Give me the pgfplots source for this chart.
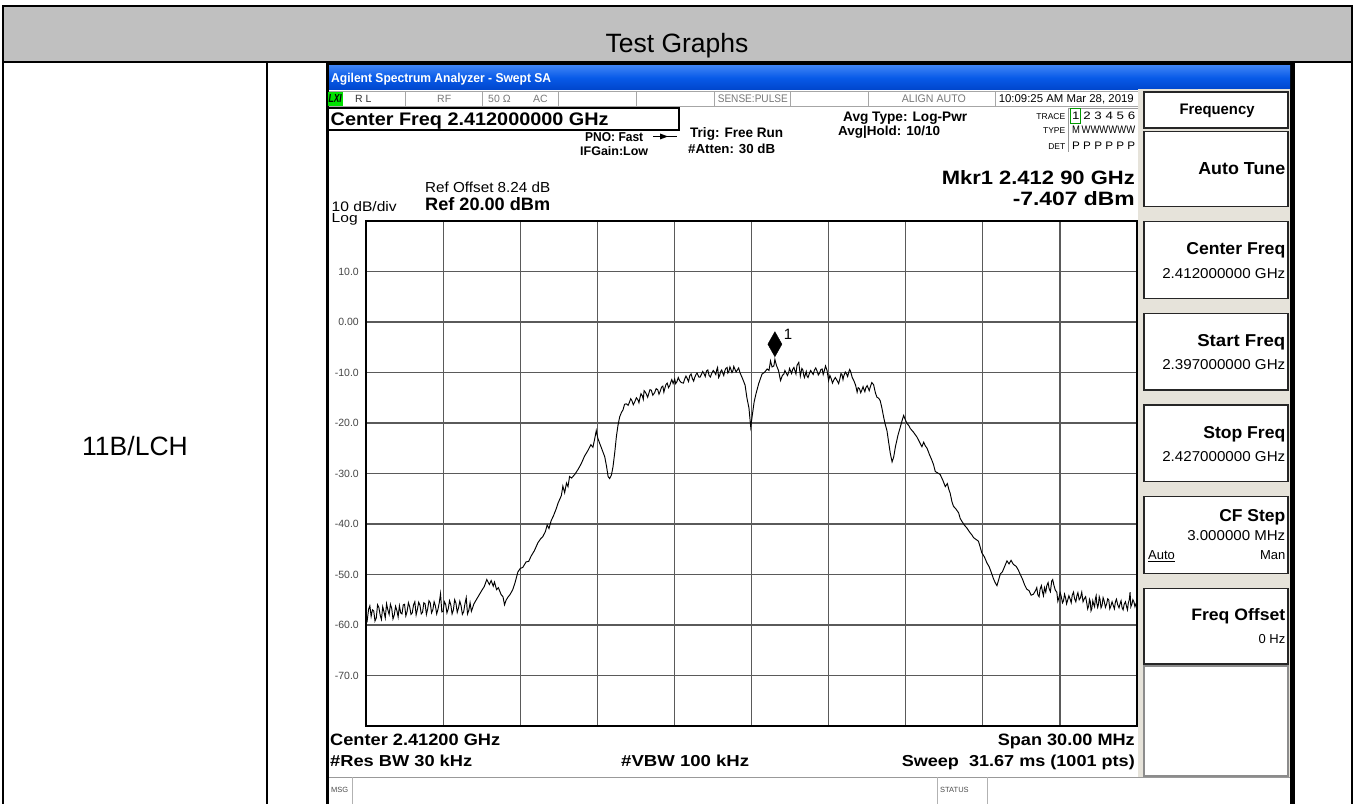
\documentclass[border=0pt]{standalone}
\usepackage{fontspec}
\setmainfont{Liberation Sans}
\usepackage{pgfplots}
\usepackage{pgfplotstable}
\pgfplotsset{compat=1.18}
\usepackage{graphicx}

\definecolor{hdrgray}{RGB}{192,192,192}
\definecolor{xptop}{RGB}{60,130,245}
\definecolor{xpmid}{RGB}{8,90,232}
\definecolor{xpbot}{RGB}{0,70,205}
\definecolor{beige}{RGB}{230,227,218}
\definecolor{lxigreen}{RGB}{0,225,0}
\definecolor{stgray}{RGB}{120,120,120}
\definecolor{gridc}{RGB}{90,90,90}
\definecolor{tickc}{RGB}{70,70,70}

\newcommand\fs[1]{\fontsize{#1bp}{#1bp}\selectfont}
\newcommand\RT[6]{\node[inner sep=0pt,anchor=#1] at (#2,#3) {\resizebox{#4bp}{#5bp}{#6}};}

\pgfplotstableread{
f p
0.00 -57.8
0.05 -59.0
0.10 -56.9
0.15 -56.2
0.20 -58.3
0.25 -57.0
0.30 -57.2
0.35 -59.2
0.40 -58.6
0.45 -56.0
0.50 -56.5
0.55 -58.0
0.60 -58.9
0.65 -56.4
0.70 -57.4
0.75 -58.6
0.80 -55.8
0.85 -57.0
0.90 -57.9
0.95 -55.9
1.00 -56.7
1.05 -58.8
1.10 -58.0
1.15 -56.3
1.20 -57.1
1.25 -58.4
1.30 -56.2
1.35 -57.6
1.40 -57.8
1.45 -56.0
1.50 -55.9
1.55 -58.2
1.60 -57.3
1.65 -55.6
1.70 -56.4
1.75 -57.9
1.80 -57.6
1.85 -56.0
1.90 -55.4
1.95 -58.0
2.00 -56.9
2.05 -55.5
2.10 -56.1
2.15 -57.8
2.20 -57.5
2.25 -55.6
2.30 -55.8
2.35 -57.9
2.40 -56.8
2.45 -55.2
2.50 -55.6
2.55 -57.6
2.60 -57.0
2.65 -55.4
2.70 -56.2
2.75 -57.8
2.80 -56.9
2.85 -55.6
2.90 -53.8
2.95 -57.4
3.00 -57.3
3.05 -55.4
3.10 -55.9
3.15 -57.6
3.20 -56.8
3.25 -55.2
3.30 -56.0
3.35 -57.8
3.40 -57.0
3.45 -55.0
3.50 -55.7
3.55 -57.5
3.60 -56.6
3.65 -55.3
3.70 -56.2
3.75 -57.9
3.80 -57.4
3.85 -55.8
3.90 -54.6
3.95 -57.8
4.00 -57.1
4.05 -55.6
4.10 -57.3
4.20 -55.8
4.35 -54.5
4.50 -53.2
4.60 -52.4
4.70 -51.0
4.80 -52.0
4.87 -51.2
4.95 -52.3
5.00 -51.5
5.08 -53.0
5.15 -52.6
5.26 -54.0
5.33 -54.4
5.39 -56.0
5.45 -55.1
5.52 -54.5
5.60 -54.0
5.71 -53.0
5.80 -51.6
5.91 -49.5
6.00 -48.8
6.10 -48.6
6.23 -47.5
6.33 -47.4
6.43 -46.3
6.55 -45.3
6.69 -43.7
6.80 -42.9
6.88 -42.5
6.98 -41.5
7.05 -40.2
7.12 -40.9
7.20 -39.4
7.30 -38.3
7.40 -37.0
7.47 -35.9
7.60 -34.4
7.66 -32.5
7.73 -33.8
7.80 -31.9
7.86 -32.6
7.92 -30.6
8.00 -30.9
8.12 -30.2
8.25 -29.2
8.38 -28.0
8.50 -26.6
8.64 -25.4
8.75 -24.3
8.83 -24.8
8.90 -23.1
8.96 -21.5
9.02 -23.0
9.09 -24.0
9.18 -25.2
9.29 -26.7
9.36 -28.6
9.42 -30.6
9.48 -31.0
9.55 -30.3
9.61 -28.7
9.68 -25.8
9.74 -22.8
9.80 -20.6
9.87 -18.8
9.94 -17.9
10.00 -17.4
10.06 -16.3
10.13 -16.2
10.20 -16.5
10.25 -15.9
10.30 -15.2
10.35 -15.6
10.40 -16.4
10.45 -15.9
10.52 -15.0
10.58 -15.4
10.62 -16.0
10.66 -15.0
10.70 -14.2
10.75 -14.6
10.79 -15.3
10.82 -13.6
10.87 -13.9
10.91 -14.3
10.96 -14.9
11.00 -14.2
11.05 -13.4
11.10 -13.5
11.16 -14.5
11.23 -14.0
11.29 -13.2
11.35 -13.4
11.40 -14.3
11.45 -13.7
11.50 -12.9
11.55 -12.7
11.59 -13.9
11.62 -13.3
11.67 -12.4
11.72 -12.1
11.77 -13.0
11.82 -12.6
11.86 -11.9
11.90 -11.4
11.95 -12.2
12.01 -11.3
12.05 -12.2
12.10 -11.8
12.15 -11.0
12.20 -11.6
12.27 -12.0
12.35 -12.1
12.40 -11.3
12.45 -10.7
12.50 -11.2
12.55 -11.8
12.60 -10.6
12.65 -10.3
12.70 -11.2
12.75 -11.7
12.79 -11.0
12.84 -10.4
12.88 -10.1
12.95 -10.9
13.00 -10.9
13.05 -10.4
13.10 -9.8
13.15 -10.2
13.20 -10.8
13.25 -9.7
13.30 -9.5
13.35 -10.6
13.40 -10.9
13.45 -10.2
13.51 -9.6
13.57 -10.0
13.61 -10.4
13.65 -9.4
13.68 -9.0
13.72 -11.0
13.76 -10.6
13.80 -9.8
13.84 -9.5
13.88 -10.1
13.92 -10.6
13.96 -9.7
14.00 -9.2
14.05 -9.0
14.08 -10.1
14.12 -9.8
14.16 -8.9
14.20 -9.4
14.24 -10.0
14.28 -9.6
14.31 -8.8
14.35 -9.3
14.40 -9.9
14.45 -9.5
14.50 -9.1
14.55 -10.0
14.65 -11.2
14.75 -12.5
14.82 -15.0
14.90 -17.0
14.97 -20.8
15.03 -18.5
15.10 -15.9
15.17 -14.3
15.28 -12.2
15.41 -10.3
15.50 -10.0
15.61 -9.3
15.68 -9.6
15.74 -7.7
15.80 -8.9
15.87 -8.7
15.91 -7.4
15.97 -8.6
16.05 -9.6
16.13 -11.6
16.20 -10.6
16.26 -10.3
16.30 -9.6
16.35 -10.1
16.40 -10.6
16.45 -9.9
16.48 -9.2
16.52 -9.7
16.56 -10.2
16.60 -9.4
16.65 -9.0
16.70 -9.8
16.73 -10.3
16.77 -8.6
16.84 -8.0
16.90 -10.7
16.96 -9.2
17.00 -9.5
17.03 -10.5
17.06 -11.0
17.10 -10.3
17.13 -9.8
17.16 -10.7
17.20 -11.0
17.25 -10.2
17.30 -9.6
17.35 -10.0
17.40 -10.4
17.45 -9.5
17.50 -9.1
17.55 -9.7
17.60 -10.5
17.65 -10.1
17.70 -9.4
17.75 -9.3
17.79 -10.4
17.82 -9.9
17.88 -8.7
17.94 -9.6
18.00 -11.6
18.05 -10.6
18.10 -11.2
18.15 -12.1
18.20 -11.5
18.26 -11.0
18.33 -11.6
18.39 -12.2
18.45 -11.0
18.48 -10.2
18.52 -10.4
18.56 -11.4
18.59 -10.7
18.65 -9.9
18.70 -10.3
18.74 -10.8
18.78 -10.0
18.82 -9.4
18.85 -9.7
18.92 -11.0
18.98 -11.6
19.05 -12.5
19.11 -13.9
19.15 -13.0
19.20 -13.2
19.25 -14.0
19.30 -13.4
19.34 -12.8
19.37 -13.3
19.41 -13.8
19.45 -13.0
19.50 -12.6
19.55 -13.2
19.58 -13.6
19.62 -12.9
19.68 -12.0
19.75 -12.4
19.82 -14.0
19.88 -14.9
19.95 -15.1
20.01 -15.6
20.08 -17.2
20.14 -18.8
20.20 -20.2
20.27 -21.5
20.33 -23.6
20.40 -26.0
20.47 -27.7
20.53 -26.8
20.60 -24.7
20.70 -22.4
20.79 -20.8
20.86 -19.5
20.92 -18.5
20.98 -19.3
21.05 -20.1
21.12 -20.5
21.18 -21.1
21.30 -21.8
21.44 -22.8
21.55 -23.9
21.63 -24.7
21.70 -23.8
21.76 -24.5
21.83 -25.0
21.92 -26.2
22.02 -27.4
22.08 -28.2
22.15 -29.6
22.25 -29.9
22.34 -30.2
22.45 -31.4
22.54 -32.6
22.62 -32.0
22.68 -33.2
22.73 -33.9
22.80 -35.6
22.86 -36.5
22.95 -37.0
23.06 -37.8
23.12 -38.9
23.19 -39.5
23.28 -40.2
23.38 -40.8
23.50 -41.7
23.58 -42.2
23.64 -42.7
23.72 -43.0
23.83 -43.4
23.90 -44.6
23.96 -45.7
24.06 -46.5
24.16 -47.7
24.25 -48.5
24.33 -49.6
24.42 -50.9
24.48 -51.6
24.55 -52.2
24.62 -51.0
24.68 -49.9
24.76 -49.5
24.85 -48.4
24.94 -47.3
25.02 -47.9
25.10 -47.2
25.19 -48.0
25.30 -48.4
25.38 -49.1
25.45 -49.9
25.55 -51.0
25.63 -52.1
25.71 -52.9
25.80 -53.2
25.88 -54.1
25.97 -53.9
26.05 -53.2
26.10 -52.6
26.14 -54.0
26.19 -54.4
26.23 -52.9
26.28 -52.2
26.32 -53.4
26.36 -54.2
26.40 -52.6
26.45 -53.5
26.49 -52.2
26.54 -51.6
26.58 -52.8
26.63 -53.4
26.68 -51.3
26.72 -51.0
26.76 -52.0
26.82 -53.1
26.88 -53.5
26.92 -55.3
26.96 -54.6
27.01 -53.6
27.05 -54.3
27.10 -55.6
27.14 -55.2
27.18 -53.9
27.22 -54.6
27.26 -55.8
27.30 -55.1
27.35 -54.2
27.40 -54.9
27.44 -55.6
27.48 -54.1
27.53 -53.5
27.57 -54.8
27.62 -55.4
27.66 -54.2
27.70 -53.6
27.75 -55.0
27.80 -54.6
27.85 -53.5
27.90 -55.4
27.95 -54.8
28.00 -54.4
28.04 -55.5
28.08 -56.8
28.12 -56.2
28.15 -54.9
28.18 -55.3
28.21 -57.2
28.24 -56.8
28.28 -55.2
28.32 -56.0
28.35 -56.4
28.38 -54.8
28.41 -54.2
28.43 -55.5
28.47 -56.5
28.50 -55.9
28.53 -54.4
28.56 -54.9
28.60 -56.6
28.64 -56.1
28.68 -54.6
28.72 -55.2
28.77 -56.5
28.82 -55.8
28.86 -54.8
28.90 -55.0
28.94 -56.8
28.98 -56.3
29.03 -55.4
29.08 -56.2
29.12 -56.8
29.16 -55.4
29.20 -54.9
29.25 -56.0
29.30 -56.6
29.34 -55.8
29.38 -55.2
29.42 -56.6
29.46 -57.0
29.50 -55.9
29.55 -55.4
29.60 -56.5
29.63 -57.0
29.66 -55.7
29.70 -55.0
29.73 -53.5
29.76 -56.4
29.80 -55.9
29.84 -55.0
29.88 -55.4
29.92 -56.4
29.96 -55.8
30.00 -56.0
}\trace

\begin{document}
\begin{tikzpicture}
\path[use as bounding box] (0,0) rectangle (1355bp,804bp);
\clip (0,0) rectangle (1355bp,804bp);
\begin{scope}[x=1bp,y=-1bp,yshift=804bp]
 \fill[white] (0,0) rectangle (1355,804);
 % ---- table ----
 \fill[hdrgray] (3.5,6.5) rectangle (1351.5,62);
 \draw[line width=2bp] (3.5,820) -- (3.5,6.5) -- (1351.5,6.5) -- (1351.5,820);
 \draw[line width=2bp] (3.5,62) -- (1351.5,62);
 \draw[line width=2bp] (266.5,62) -- (266.5,820);
 \node[anchor=base,inner sep=0pt] at (677,52.5) {\fs{26.5}Test Graphs};
 \node[anchor=base,inner sep=0pt] at (135,456) {\fs{26.5}11B/LCH};
 % ---- analyzer frame ----
 \fill[black] (326,63) rectangle (1295,820);
 \fill[white] (329,66) rectangle (1290,820);
 \shade[top color=xptop,bottom color=xpbot,middle color=xpmid] (329,66) rectangle (1290,89.5);
 \RT{base west}{331}{83}{220}{9.3}{\color{white}\fs{13}\bfseries Agilent Spectrum Analyzer - Swept SA}
 % status row
 \draw[black!35,line width=0.8bp] (329,91.5) -- (1140,91.5) (329,106.5) -- (1140,106.5);
 \foreach \xx in {405,482,558,636,714,790,868,995,1140}
   \draw[black!35,line width=0.8bp] (\xx,91.5) -- (\xx,106.5);
 \fill[lxigreen] (327.5,92) rectangle (342.5,106);
 \RT{base west}{328.5}{103}{13}{8}{\fs{10}\bfseries\itshape LXI}
 \node[anchor=base west,inner sep=0pt,text=black!80] at (355,102.5) {\fs{10.5}R L};
 \node[anchor=base west,inner sep=0pt,text=stgray] at (437,102.5) {\fs{10.5}RF};
 \node[anchor=base west,inner sep=0pt,text=stgray] at (488,102.5) {\fs{10.5}50 Ω};
 \node[anchor=base west,inner sep=0pt,text=stgray] at (533,102.5) {\fs{10.5}AC};
 \RT{base east}{788}{102.5}{70}{7.7}{\color{stgray}\fs{10.5}SENSE:PULSE}
 \RT{base east}{966}{102.5}{64}{7.7}{\color{stgray}\fs{10.5}ALIGN AUTO}
 \RT{base east}{1134}{102.5}{135}{7.9}{\fs{11}10:09:25 AM Mar 28, 2019}
 % center freq box
 \draw[black,line width=1.3bp] (328,108) rectangle (679,130);
 \RT{base west}{330.5}{126}{278}{12.7}{\fs{17}\bfseries Center Freq 2.412000000 GHz}
 \RT{base west}{585}{141.7}{58}{9}{\fs{12}\bfseries PNO: Fast}
 \draw[line width=0.8bp] (653,136.5) -- (677,136.5);
 \fill (660,133.5) -- (668,136.5) -- (660,139.5) -- cycle;
 \RT{base west}{580}{156}{68}{9}{\fs{12}\bfseries IFGain:Low}
 \RT{base west}{690}{137.3}{93}{10}{\fs{13}\bfseries Trig: Free Run}
 \RT{base west}{688}{154}{87}{9.5}{\fs{13}\bfseries \#Atten: 30 dB}
 \RT{base west}{843}{121.7}{124}{9.5}{\fs{13}\bfseries Avg Type: Log-Pwr}
 \RT{base west}{838}{136}{102}{9.5}{\fs{13}\bfseries Avg|Hold: 10/10}
 % trace box
 \draw[black!40,line width=0.8bp] (1068,152) -- (1068,108) -- (1138,108);
 \node[anchor=base east,inner sep=0pt] at (1065.5,119.3) {\fs{8.5}TRACE};
 \node[anchor=base east,inner sep=0pt] at (1065.5,133.3) {\fs{8.5}TYPE};
 \node[anchor=base east,inner sep=0pt] at (1065.5,150) {\fs{8.5}DET};
 \draw[green!60!black,line width=0.7bp] (1070.5,108.5) rectangle (1080.5,123.5);
 \RT{base west}{1072}{119.3}{63}{7.5}{\fs{10}1 2 3 4 5 6}
 \RT{base west}{1072}{133.3}{63}{7.5}{\fs{10}M\,WWWWWW}
 \RT{base west}{1072}{150}{63}{7.5}{\fs{10}P P P P P P}
 % marker readout
 \RT{base east}{1135}{185}{193}{14}{\fs{19}\bfseries Mkr1 2.412 90 GHz}
 \RT{base east}{1135}{206}{122}{14}{\fs{19}\bfseries -7.407 dBm}
 % reference
 \RT{base west}{425}{192.7}{125}{10.5}{\fs{14}Ref Offset 8.24 dB}
 \RT{base west}{425}{210.7}{125}{13}{\fs{17}\bfseries Ref 20.00 dBm}
 \RT{base west}{331.5}{211.7}{65}{10}{\fs{13}10 dB/div}
 \RT{base west}{331.5}{222.5}{26}{9}{\fs{12}Log}
 % softkey panel
 \fill[beige] (1138,89.5) rectangle (1290,777);
 \foreach \ya/\yb in {92/128,131.7/206.7,221.7/298.3,313.3/390,405/481.7,496.7/573.3,588.3/664}
   \filldraw[fill=white,draw=black!85,line width=1.5bp] (1144,\ya) rectangle (1288,\yb);
 \filldraw[fill=white,draw=black!45,line width=1.2bp] (1144,666) rectangle (1288,776);
 \RT{base}{1217}{115}{75}{10.5}{\fs{14}\bfseries Frequency}
 \RT{base east}{1285.5}{175}{87}{12}{\fs{16}\bfseries Auto Tune}
 \RT{base east}{1285.5}{255}{99}{12}{\fs{16}\bfseries Center Freq}
 \RT{base east}{1285.5}{279}{123}{10}{\fs{13}2.412000000 GHz}
 \RT{base east}{1285.5}{346.7}{88}{12}{\fs{16}\bfseries Start Freq}
 \RT{base east}{1285.5}{370}{123}{10}{\fs{13}2.397000000 GHz}
 \RT{base east}{1285.5}{438.4}{82}{12}{\fs{16}\bfseries Stop Freq}
 \RT{base east}{1285.5}{461.7}{123}{10}{\fs{13}2.427000000 GHz}
 \RT{base east}{1285.5}{521.7}{66}{12}{\fs{16}\bfseries CF Step}
 \RT{base east}{1285.5}{541}{98}{10}{\fs{13}3.000000 MHz}
 \node[anchor=base west,inner sep=0pt] at (1148,559.3) {\fs{13}\underline{Auto}};
 \node[anchor=base east,inner sep=0pt] at (1285.5,559.3) {\fs{13}Man};
 \RT{base east}{1285.5}{621}{94}{12}{\fs{16}\bfseries Freq Offset}
 \node[anchor=base east,inner sep=0pt] at (1285.5,643.3) {\fs{13}0 Hz};
 % bottom annotations
 \RT{base west}{330}{746}{170}{11.5}{\fs{15}\bfseries Center 2.41200 GHz}
 \RT{base east}{1135}{746}{137}{11.5}{\fs{15}\bfseries Span 30.00 MHz}
 \RT{base west}{330}{767}{142}{11.5}{\fs{15}\bfseries \#Res BW 30 kHz}
 \RT{base west}{621}{767}{128}{11.5}{\fs{15}\bfseries \#VBW 100 kHz}
 \RT{base east}{1135}{767}{233}{11.5}{\fs{15}\bfseries Sweep\ \ 31.67 ms (1001 pts)}
 % message bar
 \draw[black!40,line width=0.8bp] (329,777.5) -- (1290,777.5);
 \foreach \xx in {352,937,987}
   \draw[black!30,line width=0.8bp] (\xx,777.5) -- (\xx,804);
 \node[anchor=base west,inner sep=0pt,text=black!70] at (331,793) {\fs{7.5}MSG};
 \node[anchor=base west,inner sep=0pt,text=black!70] at (940,793) {\fs{7.5}STATUS};
\end{scope}
\begin{axis}[
  at={(366bp,78bp)}, anchor=south west,
  width=771bp, height=505bp, scale only axis,
  xmin=0, xmax=30, ymin=-80, ymax=20,
  xtick={0,3,...,30}, xticklabels={},
  ytick={-70,-60,...,10},
  yticklabels={-70.0,-60.0,-50.0,-40.0,-30.0,-20.0,-10.0,0.00,10.0},
  major tick length=0pt,
  grid=major,
  major grid style={gridc,line width=1.2bp},
  axis line style={black,line width=2.6bp},
  yticklabel style={font=\fs{10.5},text=tickc,inner sep=0pt,xshift=-7bp},
  clip=true,
]
\addplot[black,line width=0.95bp] table[x=f,y=p] {\trace};
\addplot[only marks,mark=diamond*,mark size=12.5bp,mark options={xscale=0.75,fill=black,draw=black}] coordinates {(15.91,-4.4)};
\node[anchor=base west,inner sep=0pt] at (axis cs:16.25,-3.45) {\fs{15}1};
\end{axis}
\end{tikzpicture}
\end{document}
